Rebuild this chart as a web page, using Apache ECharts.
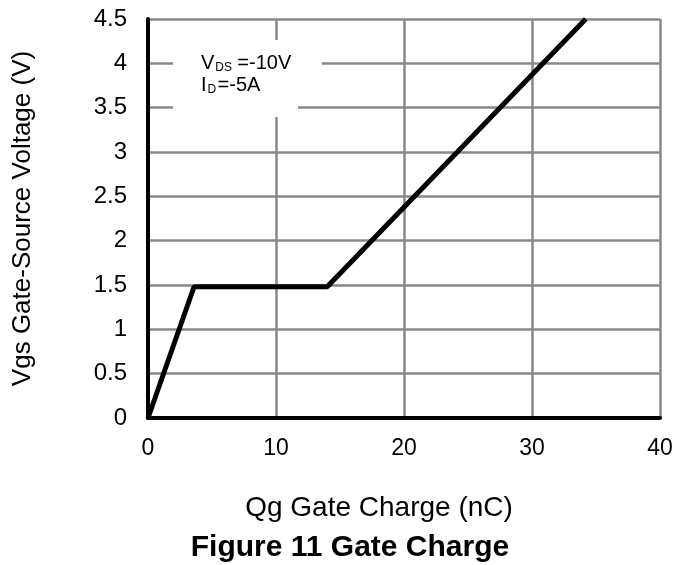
<!DOCTYPE html>
<html>
<head>
<meta charset="utf-8">
<script src="https://cdn.jsdelivr.net/npm/echarts@6/dist/echarts.min.js"></script>
<style>html,body{margin:0;padding:0;background:#fff}#c{width:678px;height:565px}</style>
</head>
<body>
<div id="c"></div>
<script>
const qg = [0, 3.6, 14.0, 34.2];
const vgs = [0, 1.48, 1.48, 4.5];
const xTicks = [0, 10, 20, 30, 40];
const yTicks = [0, 0.5, 1, 1.5, 2, 2.5, 3, 3.5, 4, 4.5];

const chart = echarts.init(document.getElementById('c'));
const font = '"Liberation Sans", Arial, sans-serif';
chart.setOption({
  animation: false,
  backgroundColor: '#fff',
  title: {
    text: 'Figure 11 Gate Charge',
    left: 350, top: 533, textAlign: 'center', padding: 0,
    textStyle: {fontFamily: font, fontWeight: 'bold', fontSize: 30, color: '#000'}
  },
  grid: {left: 148, right: 18, top: 19, bottom: 147},
  xAxis: {
    type: 'value', min: 0, max: 40, interval: 10,
    name: 'Qg Gate Charge (nC)', nameLocation: 'middle', nameGap: 76,
    nameTextStyle: {fontFamily: font, fontSize: 28, color: '#000', padding: [0, 50, 0, 0]},
    axisLine: {show: true, onZero: false, lineStyle: {color: '#000', width: 4}},
    axisTick: {show: false},
    axisLabel: {fontFamily: font, fontSize: 23, color: '#000', margin: 19,
      formatter: v => xTicks.includes(v) ? String(v) : ''},
    splitLine: {show: true, lineStyle: {color: '#888', width: 2.5}}
  },
  yAxis: {
    type: 'value', min: 0, max: 4.5, interval: 0.5,
    name: 'Vgs Gate-Source Voltage (V)', nameLocation: 'middle', nameGap: 112,
    nameTextStyle: {fontFamily: font, fontSize: 26, color: '#000'},
    axisLine: {show: true, lineStyle: {color: '#000', width: 4}},
    axisTick: {show: false},
    axisLabel: {fontFamily: font, fontSize: 24, color: '#000', margin: 21,
      formatter: v => yTicks.includes(v) ? String(v) : ''},
    splitLine: {show: true, lineStyle: {color: '#888', width: 2.5}}
  },
  graphic: [
    {type: 'rect', z: 100, shape: {x: 173, y: 40, width: 149, height: 64}, style: {fill: '#fff'}},
    {type: 'rect', z: 100, shape: {x: 173, y: 103, width: 125, height: 14}, style: {fill: '#fff'}},
    {type: 'text', z: 101, x: 201, y: 52, style: {
      text: '{m|V}{s|DS}{m|=-10V}\n{m|I}{t|D}{m|=-5A}',
      rich: {
        m: {fontFamily: font, fontSize: 20, color: '#000', lineHeight: 22, verticalAlign: 'middle'},
        s: {fontFamily: font, fontSize: 12, color: '#000', lineHeight: 22, verticalAlign: 'middle', width: 22, padding: [10,0,0,1]},
        t: {fontFamily: font, fontSize: 12, color: '#000', lineHeight: 22, verticalAlign: 'middle', width: 10, padding: [10,0,0,1]}
      }
    }}
  ],
  series: [{
    type: 'line',
    data: qg.map((x, i) => [x, vgs[i]]),
    showSymbol: false,
    lineStyle: {color: '#000', width: 5},
    z: 10
  }]
});
</script>
</body>
</html>
